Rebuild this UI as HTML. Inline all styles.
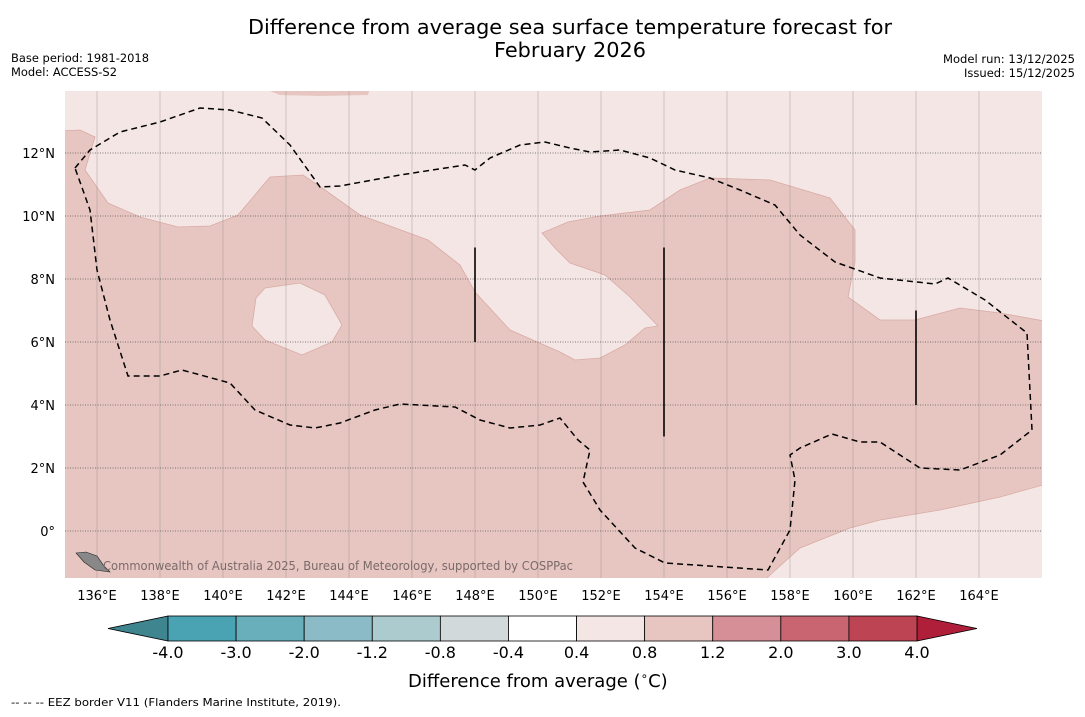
<!DOCTYPE html>
<html><head><meta charset="utf-8"><style>
body{margin:0;background:#fff;width:1085px;height:713px;overflow:hidden;font-family:"DejaVu Sans",sans-serif}
</style></head><body>
<svg width="1085" height="713" viewBox="0 0 1085 713" style="font-family:'DejaVu Sans','Liberation Sans',sans-serif">
<text x="570" y="34" text-anchor="middle" font-size="20" textLength="644" lengthAdjust="spacingAndGlyphs">Difference from average sea surface temperature forecast for</text>
<text x="570" y="57" text-anchor="middle" font-size="20" textLength="152" lengthAdjust="spacingAndGlyphs">February 2026</text>
<text x="11" y="62" font-size="11.5" textLength="138" lengthAdjust="spacingAndGlyphs">Base period: 1981-2018</text>
<text x="11" y="76" font-size="11.5" textLength="106" lengthAdjust="spacingAndGlyphs">Model: ACCESS-S2</text>
<text x="943" y="63" font-size="11.5" textLength="132" lengthAdjust="spacingAndGlyphs">Model run: 13/12/2025</text>
<text x="964" y="77" font-size="11.5" textLength="111" lengthAdjust="spacingAndGlyphs">Issued: 15/12/2025</text>
<defs><clipPath id="mc"><rect x="65" y="91" width="977" height="487"/></clipPath></defs>
<g id="map" clip-path="url(#mc)"></g>
<g id="axes"></g>
<g id="cbar"></g>
<text x="408" y="687" font-size="18">Difference from average (<tspan font-size="12" dy="-7">∘</tspan><tspan dy="7">C)</tspan></text>
<text x="11" y="706" font-size="11" textLength="330" lengthAdjust="spacingAndGlyphs">--  --  -- EEZ border V11 (Flanders Marine Institute, 2019).</text>
</svg>
<script>
const lonTicks=[136,138,140,142,144,146,148,150,152,154,156,158,160,162,164];
const latTicks=[12,10,8,6,4,2,0];
const cbLevels=["-4.0","-3.0","-2.0","-1.2","-0.8","-0.4","0.4","0.8","1.2","2.0","3.0","4.0"];
const cbColors=["#4aa3b2","#68aebb","#8bbbc6","#abcbcf","#d1d9da","#ffffff","#f4e6e4","#e7c6c1","#d68f96","#c96570","#bd4452"];
const X=l=>97+(l-136)*31.5, Y=a=>531-a*31.5;
const ns="http://www.w3.org/2000/svg";
function mk(t,a,p){const e=document.createElementNS(ns,t);for(const k in a)e.setAttribute(k,a[k]);p.appendChild(e);return e;}
const px2=(p)=>p.map(([x,y])=>[136+(x-97)/31.5,(531-y)/31.5]);
const warmPoly=px2([[60,131],[80,130],[95,137],[85,170],[108,203],[140,217],[178,227],[210,226],[238,215],[270,177],[303,175],[325,190],[360,215],[428,240],[460,265],[475,292],[510,330],[560,352],[575,360],[600,358],[625,345],[645,328],[658,326],[630,297],[605,275],[570,263],[555,248],[542,233],[568,222],[600,216],[650,210],[680,190],[710,178],[770,180],[830,198],[855,230],[855,262],[848,297],[880,320],[915,320],[960,308],[1000,313],[1050,322],[1050,483],[1000,497],[940,510],[880,520],[850,528],[800,548],[770,575],[760,585],[60,585]]);
const coolBlob=px2([[265,288],[300,283],[325,295],[342,325],[332,342],[302,355],[265,340],[252,326],[256,298]]);
const topStrip=px2([[262,88],[370,88],[368,95],[320,96],[280,95]]);
const eez=px2([[75,168],[90,150],[120,132],[160,122],[200,108],[230,110],[262,118],[290,145],[320,187],[340,186],[400,175],[465,165],[475,170],[490,158],[520,145],[545,142],[570,148],[590,152],[620,150],[650,158],[675,170],[710,178],[740,190],[775,205],[800,235],[835,262],[880,278],[935,284],[948,278],[985,300],[1027,333],[1032,430],[1000,455],[960,470],[920,468],[880,442],[860,442],[832,434],[800,448],[790,455],[795,480],[790,530],[768,570],[665,563],[635,548],[600,510],[583,482],[590,450],[578,440],[560,418],[540,425],[510,428],[480,420],[455,407],[400,404],[375,410],[340,423],[315,428],[290,425],[255,410],[230,383],[182,370],[160,376],[128,376],[110,320],[97,270],[90,210],[75,168]]);
const bars=[[148,9,6],[154,9,3],[162,7,4]];
const m=document.getElementById('map');
const pts=a=>a.map(([l,t])=>X(l).toFixed(1)+','+Y(t).toFixed(1)).join(' ');
let e=mk('rect',{x:65,y:91,width:977,height:487,fill:'#f4e6e4'},m);

e=mk('polygon',{points:pts(warmPoly),fill:'#e7c6c1',stroke:'#d9aaa5','stroke-width':0.8},m);

e=mk('polygon',{points:pts(coolBlob),fill:'#f4e6e4',stroke:'#d9aaa5','stroke-width':0.8},m);

e=mk('polygon',{points:pts(topStrip),fill:'#e7c6c1'},m);

lonTicks.forEach(l=>{const g=mk('line',{x1:X(l),x2:X(l),y1:91,y2:578,stroke:'#8a8080','stroke-width':0.5,opacity:0.7},m);
});
latTicks.forEach(a=>{const g=mk('line',{x1:65,x2:1042,y1:Y(a),y2:Y(a),stroke:'#555','stroke-width':0.7,'stroke-dasharray':'1,1.5'},m);
});
e=mk('polyline',{points:pts(eez),fill:'none',stroke:'#000','stroke-width':1.5,'stroke-dasharray':'6,4'},m);

bars.forEach(([l,a,b])=>{const g=mk('line',{x1:X(l),x2:X(l),y1:Y(a),y2:Y(b),stroke:'#000','stroke-width':1.6},m);
});
e=mk('polygon',{points:'76,553 86,552 97,556 104,566 110,572 95,570 84,562',fill:'#888',stroke:'#222','stroke-width':0.6},m);

e=mk('text',{x:103,y:570,'font-size':12,fill:'#7a6a6a',textLength:470,lengthAdjust:'spacingAndGlyphs'},m);e.textContent='Commonwealth of Australia 2025, Bureau of Meteorology, supported by COSPPac';

const ax=document.getElementById('axes');
lonTicks.forEach(l=>{const t=mk('text',{x:X(l),y:600,'text-anchor':'middle','font-size':13},ax);t.textContent=l+'°E';
});
latTicks.forEach(a=>{const t=mk('text',{x:55,y:Y(a)+5,'text-anchor':'end','font-size':13},ax);t.textContent=a===0?'0°':a+'°N';
});
const cb=document.getElementById('cbar');const x0=168,x1=917,w=(x1-x0)/cbColors.length;
e=mk('polygon',{points:`108,628.5 ${x0},616 ${x0},641`,fill:'#3f8590',stroke:'#000','stroke-width':0.8},cb);

e=mk('polygon',{points:`977,628.5 ${x1},616 ${x1},641`,fill:'#b01f3a',stroke:'#000','stroke-width':0.8},cb);

cbColors.forEach((c,i)=>{const r=mk('rect',{x:x0+i*w,y:616,width:w,height:25,fill:c,stroke:'#000','stroke-width':0.8},cb);
});
cbLevels.forEach((s,i)=>{const t=mk('text',{x:x0+i*w,y:658,'text-anchor':'middle','font-size':16},cb);t.textContent=s;
});
</script>
</body></html>
